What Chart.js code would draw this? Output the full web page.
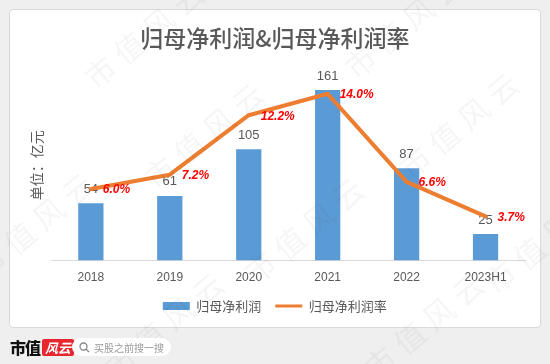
<!DOCTYPE html>
<html>
<head>
<meta charset="utf-8">
<script src="https://cdn.jsdelivr.net/npm/chart.js@4"></script>
<style>
  html, body { margin: 0; padding: 0; }
  body { width: 550px; height: 364px; background: #efefef; position: relative; overflow: hidden; font-family: 'Noto Sans CJK SC', sans-serif; }
  .card { position: absolute; left: 9px; top: 9px; width: 532px; height: 319px; box-sizing: border-box; background: #fff; border: 1px solid #dadada; border-radius: 4px; }
  .chart-wrap { position: absolute; left: 9px; top: 9px; width: 532px; height: 319px; }
  .wm { position: absolute; color: rgba(0,0,0,0.04); font-size: 30px; letter-spacing: 8px; transform: rotate(-40deg); white-space: nowrap; pointer-events: none; font-family: 'Noto Sans CJK SC', sans-serif; }
  .logo { position: absolute; left: 10px; top: 338px; height: 18px; display: flex; align-items: center; }
  .logo .a { font-weight: 900; font-size: 16px; color: #111; letter-spacing: -1px; }
  .logo .b { margin-left: 2px; background: #e8262d; color: #fff; font-size: 13px; font-style: italic; font-weight: 700; padding: 0 3px; height: 17px; line-height: 17px; border-radius: 2px; }
  .search { position: absolute; left: 72px; top: 338px; width: 99px; height: 18px; background: #fff; border-radius: 9px; display: flex; align-items: center; font-size: 10px; color: #999; }
  .search svg { margin: 0 4px 0 7px; }
</style>
</head>
<body>
<div class="card"></div>
<div class="chart-wrap"><canvas id="chart"></canvas></div>

<div class="wm" style="left:70px; top:10px;">市值风云</div>
<div class="wm" style="left:330px; top:0px;">市值风云</div>
<div class="wm" style="left:130px; top:110px;">市值风云</div>
<div class="wm" style="left:385px; top:100px;">市值风云</div>
<div class="wm" style="left:-40px; top:200px;">市值风云</div>
<div class="wm" style="left:230px; top:205px;">市值风云</div>
<div class="wm" style="left:470px; top:215px;">市值风云</div>
<div class="wm" style="left:90px; top:300px;">市值风云</div>
<div class="wm" style="left:350px; top:300px;">市值风云</div>

<div class="logo"><span class="a">市值</span><span class="b">风云</span></div>
<div class="search">
  <svg width="11" height="11" viewBox="0 0 11 11"><circle cx="4.5" cy="4.5" r="3.5" fill="none" stroke="#888" stroke-width="1.3"/><line x1="7" y1="7" x2="10" y2="10" stroke="#888" stroke-width="1.3"/></svg>
  <span>买股之前搜一搜</span>
</div>

<script>
const years = ['2018', '2019', '2020', '2021', '2022', '2023H1'];
const netProfit = [54, 61, 105, 161, 87, 25];      // 亿元
const netMargin = [6.0, 7.2, 12.2, 14.0, 6.6, 3.7]; // %

const blue = '#5B9BD5';
const orange = '#ED7D31';
const grey = '#595959';

Chart.defaults.font.family = "'Liberation Sans', 'Noto Sans CJK SC', sans-serif";
Chart.defaults.color = grey;

// numbers above bars and beside the line points
const valueLabels = {
  id: 'valueLabels',
  afterDatasetDraw(chart, args) {
    const ctx = chart.ctx;
    const meta = args.meta;
    ctx.save();
    if (meta.type === 'bar') {
      ctx.font = '13px "Liberation Sans"';
      ctx.fillStyle = grey;
      ctx.textAlign = 'center';
      ctx.textBaseline = 'middle';
      meta.data.forEach((bar, i) => {
        ctx.fillText(netProfit[i], bar.x, bar.y - 14);
      });
    } else {
      ctx.font = 'italic bold 12px "Liberation Sans"';
      ctx.fillStyle = '#FF0000';
      ctx.textAlign = 'left';
      ctx.textBaseline = 'middle';
      meta.data.forEach((pt, i) => {
        ctx.fillText(netMargin[i].toFixed(1) + '%', pt.x + 12, pt.y + 1);
      });
    }
    ctx.restore();
  }
};

new Chart(document.getElementById('chart'), {
  type: 'bar',
  data: {
    labels: years,
    datasets: [{
      type: 'bar',
      label: '归母净利润',
      data: netProfit,
      backgroundColor: blue,
      borderWidth: 0,
      barPercentage: 0.32,
      categoryPercentage: 1,
      yAxisID: 'y',
      order: 1,
      pointStyle: 'rect'
    }, {
      type: 'line',
      label: '归母净利润率',
      data: netMargin,
      borderColor: orange,
      backgroundColor: orange,
      borderWidth: 4,
      pointRadius: 0,
      tension: 0,
      borderJoinStyle: 'round',
      borderCapStyle: 'round',
      yAxisID: 'y1',
      order: 0,
      pointStyle: 'line'
    }]
  },
  options: {
    responsive: true,
    maintainAspectRatio: false,
    animation: false,
    layout: {
      padding: { left: 15.6, right: 16, top: 0, bottom: 5.6 }
    },
    scales: {
      x: {
        grid: { display: false, drawTicks: false },
        border: { display: true, color: '#D9D9D9', width: 1 },
        ticks: { padding: 10, color: grey, font: { size: 12 } },
        afterFit(scale) { scale.height = 25; }
      },
      y: {
        position: 'left',
        min: 0,
        max: 180,
        grid: { display: false, drawTicks: false },
        border: { display: false },
        ticks: { display: false },
        title: {
          display: true,
          text: '单位：亿元',
          color: grey,
          font: { size: 14, family: "'Noto Sans CJK SC', sans-serif" },
          padding: { top: 4, bottom: 6 }
        }
      },
      y1: {
        display: false,
        position: 'right',
        min: 0,
        max: 16
      }
    },
    plugins: {
      title: {
        display: true,
        text: '归母净利润&归母净利润率',
        color: grey,
        font: { size: 23, weight: '500', family: "'Noto Sans CJK SC', sans-serif" },
        padding: { top: 15.2, bottom: 18.2 }
      },
      legend: {
        position: 'bottom',
        labels: {
          usePointStyle: true,
          pointStyleWidth: 27,
          boxWidth: 27,
          boxHeight: 8,
          padding: 14,
          color: grey,
          font: { size: 13, family: "'Noto Sans CJK SC', sans-serif" },
          sort: (a, b) => a.datasetIndex - b.datasetIndex,
          generateLabels(chart) {
            const items = Chart.defaults.plugins.legend.labels.generateLabels(chart);
            items.forEach(it => { if (it.datasetIndex === 1) it.lineWidth = 3; });
            return items;
          }
        }
      },
      tooltip: { enabled: false }
    }
  },
  plugins: [valueLabels]
});
</script>
</body>
</html>
